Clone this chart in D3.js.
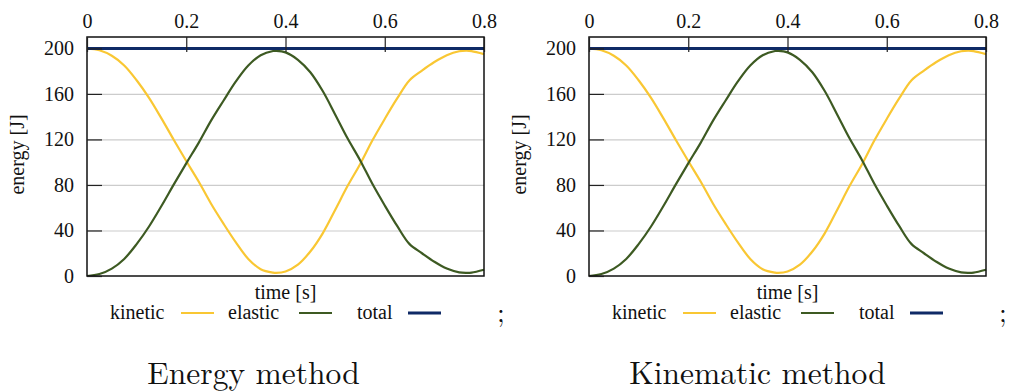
<!DOCTYPE html>
<html>
<head>
<meta charset="utf-8">
<script src="https://cdn.jsdelivr.net/npm/d3@7/dist/d3.min.js"></script>
<style>
  body { margin: 0; background: #fff; }
  svg { display: block; }
</style>
</head>
<body>
<svg id="chart" width="1012" height="392"></svg>
<script>
// time samples [s]
const times = [0, 0.025, 0.05, 0.075, 0.1, 0.125, 0.15, 0.175, 0.2, 0.225, 0.25, 0.275, 0.3,
  0.325, 0.35, 0.375, 0.381, 0.4, 0.425, 0.45, 0.475, 0.5, 0.525, 0.55, 0.575, 0.6, 0.625,
  0.65, 0.675, 0.7, 0.725, 0.75, 0.765, 0.775, 0.8];
// energies [J]
const kinetic = [200, 198.3, 193.5, 185, 172, 156.5, 138.5, 119.5, 101, 83, 63.5, 46, 29.5,
  15, 6, 2.9, 2.7, 4, 10, 21.5, 37.5, 58, 79, 98, 119, 138, 156,
  172, 180.5, 188, 194, 197.5, 198, 197.6, 195];
const elastic = [0, 1.7, 6.5, 15, 28, 43.5, 61.5, 80.5, 99, 117, 136.5, 154, 171,
  185, 194, 197.7, 197.8, 196.5, 190, 179, 162.5, 142, 121, 102, 81, 62, 44,
  28, 20, 12.5, 6.5, 3.2, 2.8, 3, 5.5];
const total = times.map(() => 200);

const seriesNames = ['kinetic', 'elastic', 'total'];
const seriesColors = ['#f9c733', '#3d5a22', '#0f2a66'];
const xTicks = [0, 0.2, 0.4, 0.6, 0.8];
const yTicks = [0, 40, 80, 120, 160, 200];
const captions = ['Energy method', 'Kinematic method'];

const svg = d3.select('#chart');
const margin = { left: 87, top: 37 };
const width = 397;
const height = 239;
const panelStep = 502;
const fontSize = '20px';
const serif = 'Liberation Serif';
const captionFont = '"Latin Modern Roman", "Liberation Serif", serif';

const x = d3.scaleLinear().domain([0, 0.8]).range([0, width]);
const y = d3.scaleLinear().domain([0, 210]).range([height, 0]);

const line = d3.line()
  .x(d => x(d[0]))
  .y(d => y(d[1]))
  .curve(d3.curveCatmullRom.alpha(0.5));

const seriesData = [kinetic, elastic, total].map(vals => times.map((t, i) => [t, vals[i]]));

captions.forEach((caption, p) => {
  const g = svg.append('g')
    .attr('transform', `translate(${margin.left + p * panelStep},${margin.top})`);

  // horizontal grid
  g.append('g')
    .call(d3.axisLeft(y).tickValues(yTicks.slice(1)).tickSize(-width).tickFormat(''))
    .call(a => a.select('.domain').remove())
    .selectAll('line')
    .attr('stroke', '#cccccc')
    .attr('stroke-width', 1.2);

  // curves
  seriesData.forEach((d, i) => {
    g.append('path')
      .datum(d)
      .attr('fill', 'none')
      .attr('stroke', seriesColors[i])
      .attr('stroke-width', i === 2 ? 3 : 2.2)
      .attr('d', line);
  });

  // frame
  g.append('rect')
    .attr('width', width)
    .attr('height', height)
    .attr('fill', 'none')
    .attr('stroke', '#111')
    .attr('stroke-width', 1.5);

  // top axis
  const xAxis = g.append('g')
    .call(d3.axisTop(x).tickValues(xTicks).tickSizeInner(-15).tickSizeOuter(0).tickPadding(9)
      .tickFormat(d => d === 0 ? '0' : d3.format('.1f')(d)));
  xAxis.attr('font-family', serif);
  xAxis.select('.domain').remove();
  xAxis.selectAll('line').attr('stroke', '#222').attr('stroke-width', 1.2);
  xAxis.selectAll('text').style('font-family', serif).style('font-size', fontSize).attr('fill', '#111');

  // left axis
  const yAxis = g.append('g')
    .call(d3.axisLeft(y).tickValues(yTicks).tickSizeInner(-15).tickSizeOuter(0).tickPadding(13));
  yAxis.attr('font-family', serif);
  yAxis.select('.domain').remove();
  yAxis.selectAll('line').attr('stroke', '#222').attr('stroke-width', 1.2);
  yAxis.selectAll('text').style('font-family', serif).style('font-size', fontSize).attr('fill', '#111');

  // axis titles
  g.append('text')
    .attr('x', width / 2)
    .attr('y', height + 23)
    .attr('text-anchor', 'middle')
    .attr('fill', '#111')
    .style('font-family', serif)
    .style('font-size', fontSize)
    .text('time [s]');

  g.append('text')
    .attr('transform', `translate(${-63},${height / 2 - 2}) rotate(-90)`)
    .attr('text-anchor', 'middle')
    .attr('fill', '#111')
    .style('font-family', serif)
    .style('font-size', fontSize)
    .text('energy [J]');

  // legend
  const legendX = [23, 141, 270];
  seriesNames.forEach((name, i) => {
    const lg = g.append('g')
      .attr('transform', `translate(${legendX[i]},${height + 43})`);
    lg.append('text')
      .attr('fill', '#111')
      .style('font-family', serif)
      .style('font-size', fontSize)
      .text(name);
    lg.append('line')
      .attr('x1', i === 2 ? 51 : 71)
      .attr('x2', i === 2 ? 84 : 104)
      .attr('y1', -6)
      .attr('y2', -6)
      .attr('stroke', seriesColors[i])
      .attr('stroke-width', i === 2 ? 3 : 2.2);
  });

  // separator
  g.append('text')
    .attr('x', width + 13)
    .attr('y', height + 46)
    .attr('fill', '#111')
    .style('font-family', captionFont)
    .style('font-size', '28px')
    .text(';');

  // caption
  g.append('text')
    .attr('x', width / 2 - 32 + p * 2)
    .attr('y', 347)
    .attr('text-anchor', 'middle')
    .attr('fill', '#111')
    .style('font-family', captionFont)
    .style('font-size', '31.5px')
    .text(caption);
});
</script>
</body>
</html>
